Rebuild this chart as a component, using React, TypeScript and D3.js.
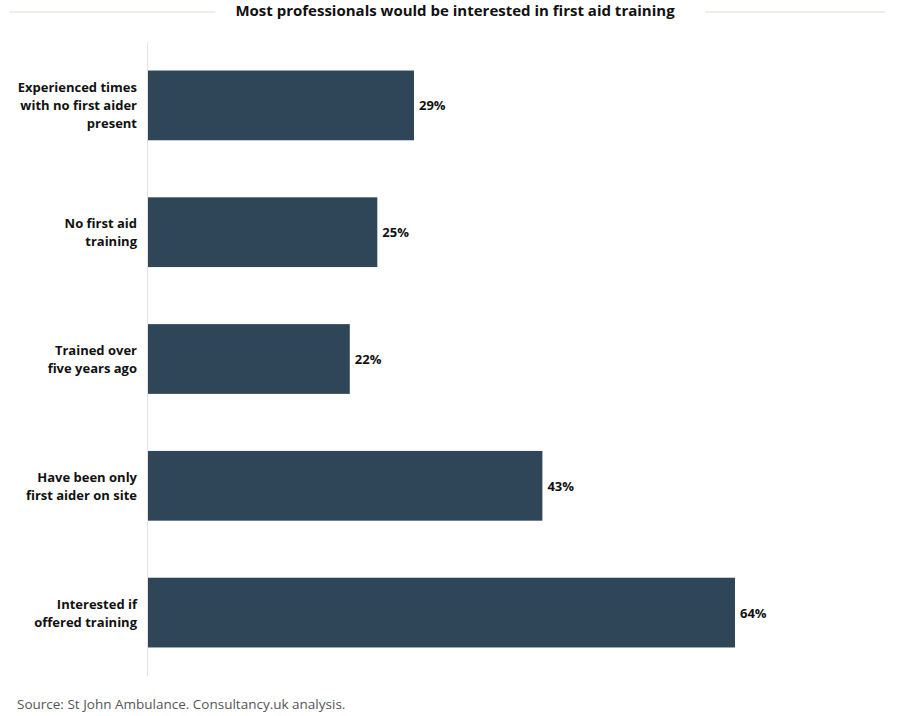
import { useEffect, useRef } from 'react';
import * as d3 from 'd3';

const categories = [
  ['Experienced times', 'with no first aider', 'present'],
  ['No first aid', 'training'],
  ['Trained over', 'five years ago'],
  ['Have been only', 'first aider on site'],
  ['Interested if', 'offered training'],
];
const values = [29, 25, 22, 43, 64];

const title = 'Most professionals would be interested in first aid training';
const source = 'Source: St John Ambulance. Consultancy.uk analysis.';

const FONT = "'Open Sans', Lato, sans-serif";

export default function App() {
  const svgRef = useRef<SVGSVGElement>(null);

  useEffect(() => {
    if (!svgRef.current) return;
    const svg = d3.select(svgRef.current);
    svg.selectAll('*').remove();

    const width = 900;
    const left = 148;
    const top = 42;
    const bottom = 676;

    svg.append('rect').attr('width', width).attr('height', 716).attr('fill', '#fff');

    // Title with side rules
    const t = svg.append('text')
      .attr('x', 455)
      .attr('y', 16)
      .attr('text-anchor', 'middle')
      .attr('font-family', FONT)
      .attr('font-weight', 'bold')
      .attr('font-size', 15)
      .attr('fill', '#111')
      .text(title);
    const bb = (t.node() as SVGTextElement).getBBox();
    svg.append('line')
      .attr('x1', 10).attr('x2', bb.x - 20)
      .attr('y1', 12).attr('y2', 12)
      .attr('stroke', '#efefe6').attr('stroke-width', 2);
    svg.append('line')
      .attr('x1', bb.x + bb.width + 30).attr('x2', 885)
      .attr('y1', 12).attr('y2', 12)
      .attr('stroke', '#efefe6').attr('stroke-width', 2);

    const y = d3.scaleBand<number>()
      .domain(values.map((_, i) => i))
      .range([top, bottom])
      .paddingInner(0.45)
      .paddingOuter(0.225);

    const x = d3.scaleLinear().domain([0, 64]).range([left, 735]);

    // Axis line
    svg.append('line')
      .attr('x1', left - 0.5).attr('x2', left - 0.5)
      .attr('y1', top).attr('y2', bottom)
      .attr('stroke', '#e4e4e4').attr('stroke-width', 1);

    // Bars
    svg.selectAll('.bar')
      .data(values)
      .enter()
      .append('rect')
      .attr('class', 'bar')
      .attr('x', x(0))
      .attr('y', (_, i) => y(i) || 0)
      .attr('width', d => x(d) - x(0))
      .attr('height', y.bandwidth())
      .attr('fill', '#2f4558');

    // Value labels
    svg.selectAll('.val')
      .data(values)
      .enter()
      .append('text')
      .attr('class', 'val')
      .attr('x', d => x(d) + 5)
      .attr('y', (_, i) => (y(i) || 0) + y.bandwidth() / 2 + 5)
      .attr('font-family', FONT)
      .attr('font-weight', 'bold')
      .attr('font-size', 13)
      .attr('fill', '#111')
      .text(d => `${d}%`);

    // Category labels
    const lineH = 18;
    categories.forEach((lines, i) => {
      const cy = (y(i) || 0) + y.bandwidth() / 2;
      const startY = cy - ((lines.length - 1) * lineH) / 2 + 5;
      const txt = svg.append('text')
        .attr('text-anchor', 'end')
        .attr('font-family', FONT)
        .attr('font-weight', 'bold')
        .attr('font-size', 13)
        .attr('fill', '#111');
      lines.forEach((l, j) => {
        txt.append('tspan').attr('x', 137).attr('y', startY + j * lineH).text(l);
      });
    });

    // Source
    svg.append('text')
      .attr('x', 17)
      .attr('y', 709)
      .attr('font-family', FONT)
      .attr('font-size', 13.5)
      .attr('fill', '#555')
      .text(source);
  }, []);

  return (
    <svg
      ref={svgRef}
      width={900}
      height={716}
      style={{ display: 'block', position: 'absolute', left: 0, top: 0 }}
    />
  );
}
